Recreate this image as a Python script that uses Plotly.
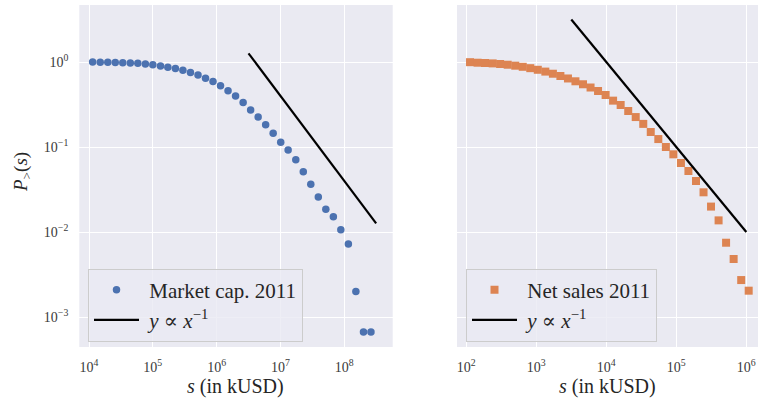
import math
import plotly.graph_objects as go

# Complementary cumulative distributions P_>(s) for two firm-size measures (2011)
mcap_s = [1.14e4, 1.50e4, 1.97e4, 2.58e4, 3.38e4, 4.44e4, 5.82e4, 7.64e4,
          1.00e5, 1.32e5, 1.72e5, 2.26e5, 2.96e5, 3.89e5, 5.11e5, 6.70e5,
          8.77e5, 1.15e6, 1.51e6, 1.98e6, 2.60e6, 3.41e6, 4.47e6, 5.86e6,
          7.69e6, 1.01e7, 1.32e7, 1.74e7, 2.28e7, 2.99e7, 3.92e7, 5.14e7,
          6.75e7, 8.83e7, 1.16e8, 1.52e8, 2.00e8, 2.62e8]
mcap_p = [1.000, 0.995, 0.990, 0.985, 0.981, 0.973, 0.964, 0.946,
          0.931, 0.898, 0.865, 0.836, 0.798, 0.750, 0.703, 0.643,
          0.588, 0.527, 0.460, 0.398, 0.333, 0.272, 0.225, 0.183,
          0.145, 0.1135, 0.0923, 0.0710, 0.0513, 0.0364, 0.0258, 0.0185,
          0.0151, 0.0106, 0.00723, 0.00199, 0.000667, 0.000667]

sales_s = [113, 145, 185, 238, 304, 390, 500, 640,
           820, 1050, 1346, 1726, 2208, 2831, 3622, 4645,
           5957, 7621, 9772, 12503, 16032, 20559, 26303, 33729,
           43152, 55335, 70958, 90782, 116413, 148936, 190985, 244906,
           313329, 401791, 514044, 659173, 845279, 1081434]
sales_p = [0.995, 0.981, 0.973, 0.963, 0.947, 0.929, 0.905, 0.878,
           0.846, 0.810, 0.771, 0.728, 0.684, 0.640, 0.593, 0.547,
           0.501, 0.456, 0.409, 0.351, 0.312, 0.265, 0.225, 0.187,
           0.150, 0.124, 0.100, 0.0820, 0.0648, 0.0522, 0.0398, 0.0293,
           0.0199, 0.0137, 0.00748, 0.00481, 0.00272, 0.00204]

# Reference power laws y = C / x
mcap_ref_c = 4.0e6
mcap_ref_x = [3.16e6, 3.16e8]
sales_ref_c = 1.0e4
sales_ref_x = [3.16e3, 1.0e6]

x_ticks_left = [1e4, 1e5, 1e6, 1e7, 1e8]
x_ticks_right = [1e2, 1e3, 1e4, 1e5, 1e6]
y_ticks = [1, 1e-1, 1e-2, 1e-3]


def pow_label(v):
    e = int(round(math.log10(v)))
    s = str(e).replace("-", "\u2212")
    return f"10<sup>{s}</sup>"


SERIF = "Liberation Serif, DejaVu Serif, serif"
TEXT = "#262626"
BLUE = "#4C72B0"
ORANGE = "#DD8452"
NBSP = "\u00a0"
law_label = NBSP + "<i>y</i> \u221d <i>x</i><sup>\u22121</sup>"

fig = go.Figure()
fig.add_trace(go.Scatter(
    x=mcap_s, y=mcap_p, mode="markers", name=NBSP + "Market cap. 2011",
    marker=dict(symbol="circle", size=7.5, color=BLUE),
    xaxis="x", yaxis="y", legend="legend"))
fig.add_trace(go.Scatter(
    x=mcap_ref_x, y=[mcap_ref_c / v for v in mcap_ref_x], mode="lines",
    name=law_label, line=dict(color="black", width=2.2),
    xaxis="x", yaxis="y", legend="legend"))
fig.add_trace(go.Scatter(
    x=sales_s, y=sales_p, mode="markers", name=NBSP + "Net sales 2011",
    marker=dict(symbol="square", size=8, color=ORANGE),
    xaxis="x2", yaxis="y2", legend="legend2"))
fig.add_trace(go.Scatter(
    x=sales_ref_x, y=[sales_ref_c / v for v in sales_ref_x], mode="lines",
    name=law_label, line=dict(color="black", width=2.2),
    xaxis="x2", yaxis="y2", legend="legend2"))

W, H = 758, 401
y_dom = [1 - 347 / H, 1 - 5 / H]
left_dom = [79.3 / W, 392.7 / W]
right_dom = [457 / W, 1.0]

axis_common = dict(
    type="log", showline=False, zeroline=False, showgrid=True,
    gridcolor="white", gridwidth=1, ticks="",
    tickfont=dict(family=SERIF, size=14, color="#3a3a3a"),
)

legend_common = dict(
    y=1 - 268.5 / H, xanchor="left", yanchor="top",
    bgcolor="rgba(234,234,242,0.8)", bordercolor="#cccccc", borderwidth=1,
    font=dict(family=SERIF, size=21, color=TEXT), itemwidth=45,
)

fig.update_layout(
    width=W, height=H,
    margin=dict(l=0, r=0, t=0, b=0),
    paper_bgcolor="white", plot_bgcolor="#EAEAF2",
    xaxis=dict(axis_common, domain=left_dom, anchor="y", range=[3.848, 8.759],
               tickvals=x_ticks_left, ticktext=[pow_label(v) for v in x_ticks_left],
               ticklabelstandoff=10),
    yaxis=dict(axis_common, domain=y_dom, anchor="x", range=[-3.353, 0.6706],
               tickvals=y_ticks, ticktext=[pow_label(v) for v in y_ticks],
               ticklabelstandoff=10),
    xaxis2=dict(axis_common, domain=right_dom, anchor="y2", range=[1.867, 6.167],
                tickvals=x_ticks_right, ticktext=[pow_label(v) for v in x_ticks_right],
                ticklabelstandoff=10),
    yaxis2=dict(axis_common, domain=y_dom, anchor="x2", range=[-3.353, 0.6706],
                tickvals=y_ticks, showticklabels=False, matches="y"),
    legend=dict(legend_common, x=88 / W),
    legend2=dict(legend_common, x=466 / W),
    annotations=[
        dict(text="<i>P</i><sub>&gt;</sub>(<i>s</i>)", xref="paper", yref="paper",
             x=22 / W, y=1 - 172 / H, textangle=-90, showarrow=False,
             xanchor="center", yanchor="middle",
             font=dict(family=SERIF, size=19, color=TEXT)),
        dict(text="<i>s</i> (in kUSD)", xref="paper", yref="paper",
             x=(left_dom[0] + left_dom[1]) / 2, y=1 - 386.5 / H, showarrow=False,
             xanchor="center", yanchor="middle",
             font=dict(family=SERIF, size=20, color=TEXT)),
        dict(text="<i>s</i> (in kUSD)", xref="paper", yref="paper",
             x=(457 / W + 758 / W) / 2, y=1 - 386.5 / H, showarrow=False,
             xanchor="center", yanchor="middle",
             font=dict(family=SERIF, size=20, color=TEXT)),
    ],
)

fig.write_html("out.html")
